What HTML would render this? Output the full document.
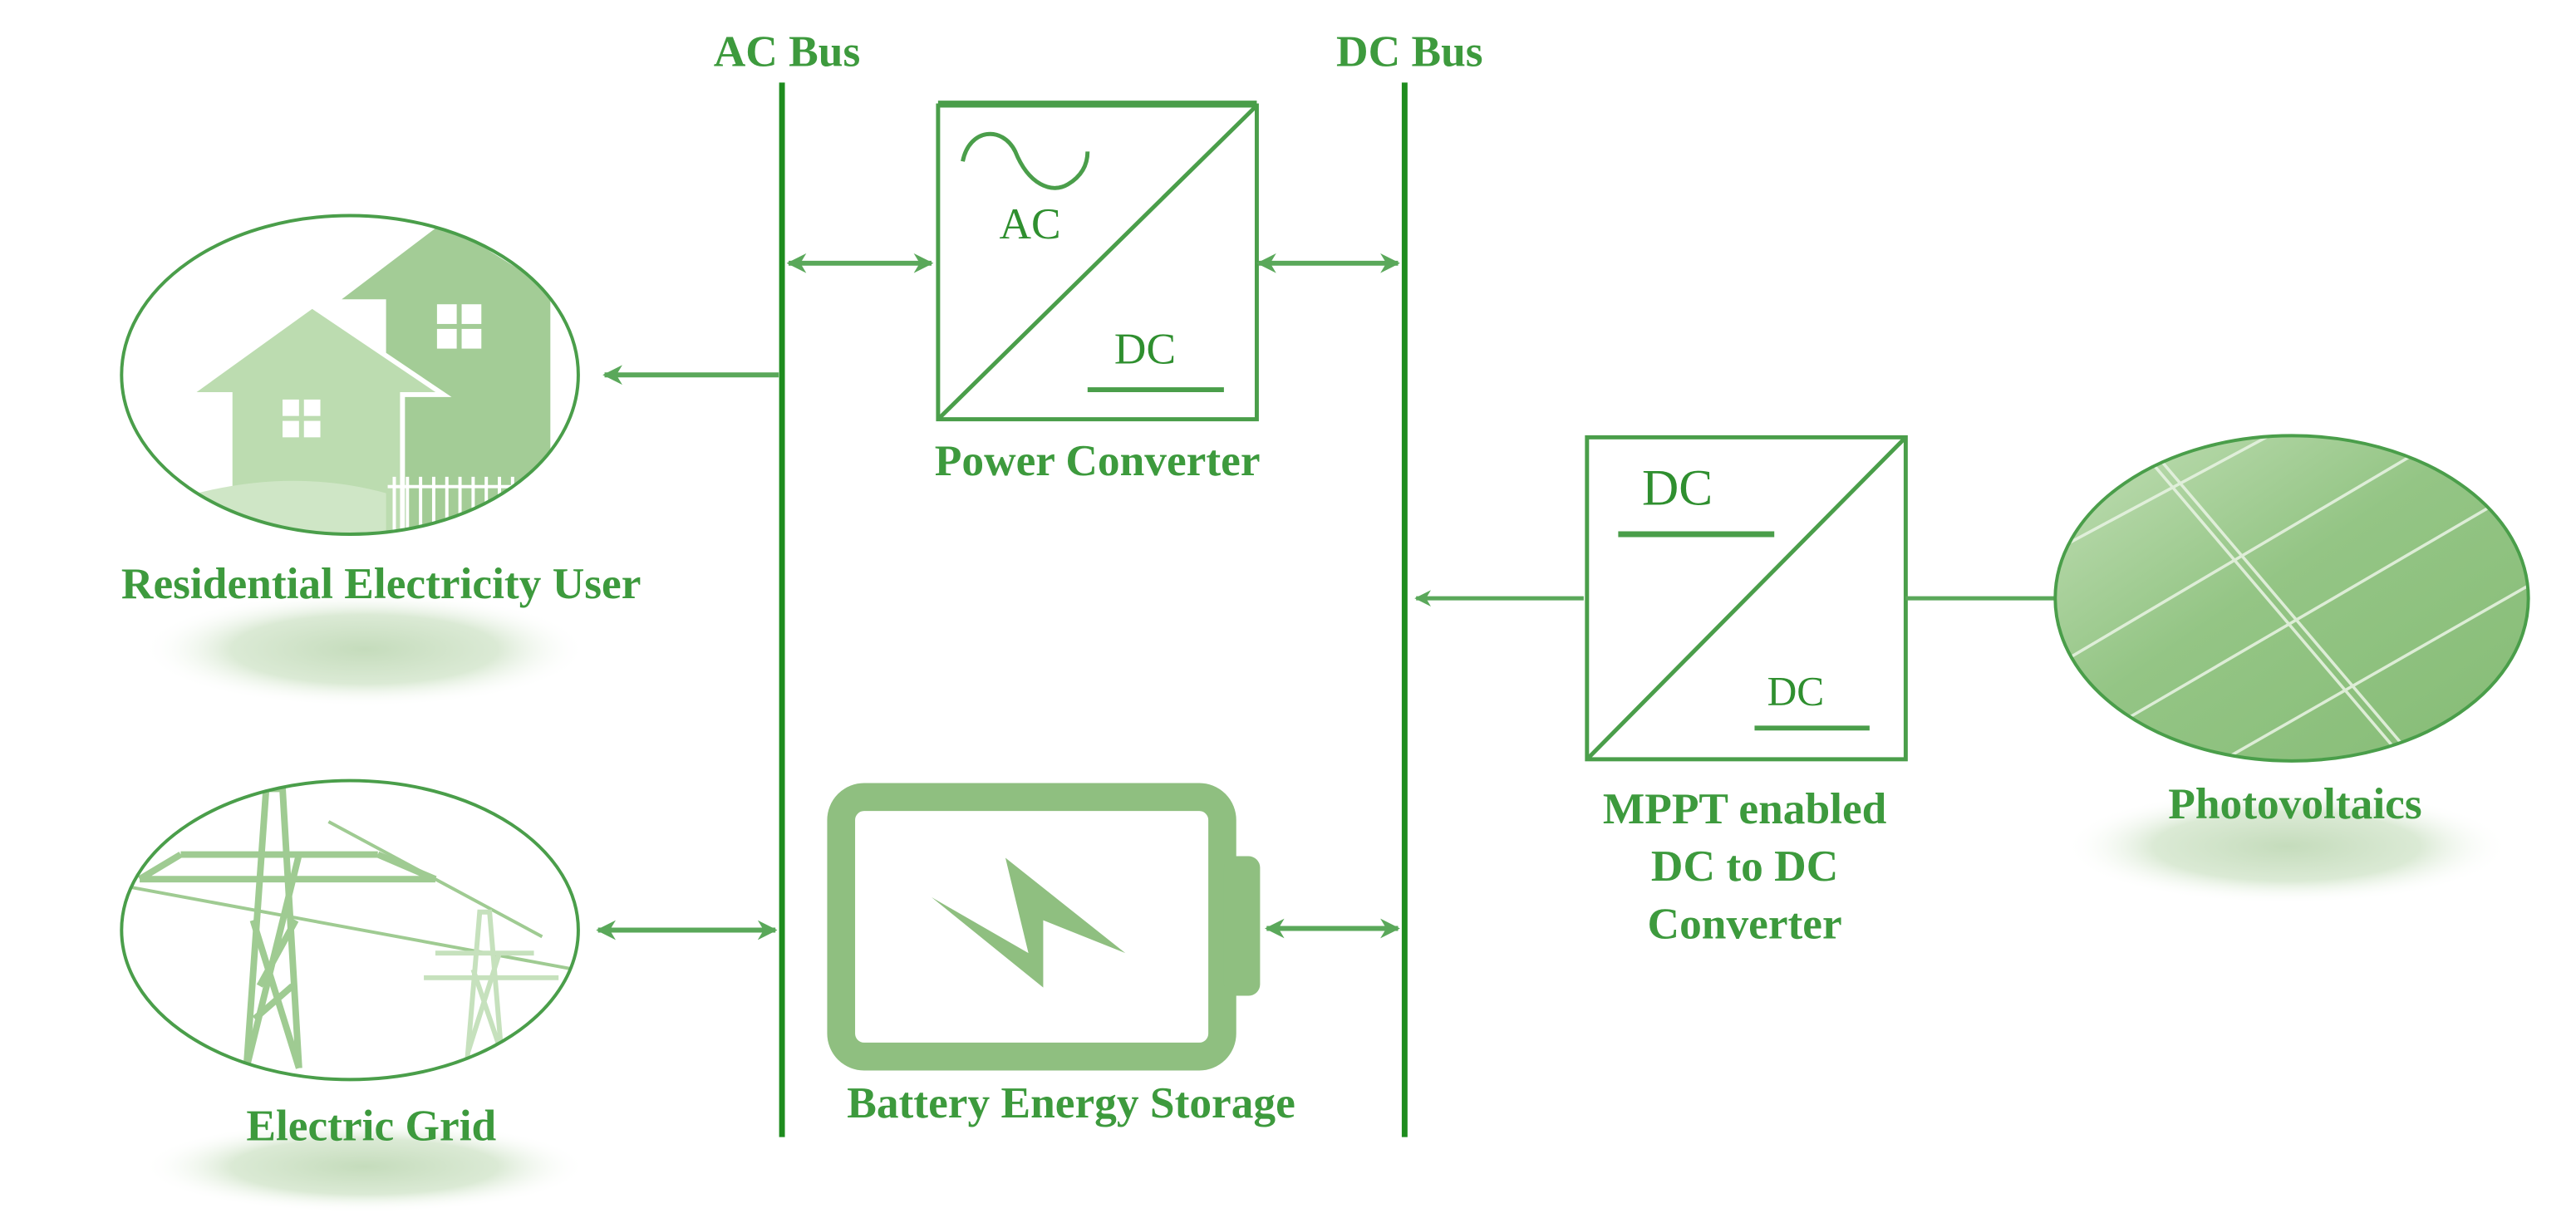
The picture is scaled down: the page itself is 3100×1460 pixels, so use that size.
<!DOCTYPE html>
<html><head><meta charset="utf-8"><style>
html,body{margin:0;padding:0;background:#fff;}
svg{display:block;}
text{font-family:"Liberation Serif",serif;font-weight:bold;fill:#3d9a3d;}
</style></head><body>
<svg width="3100" height="1460" viewBox="0 0 1568 738" xmlns="http://www.w3.org/2000/svg">
<defs>
<marker id="ah" viewBox="0 0 10 10" refX="9" refY="5" markerWidth="4" markerHeight="4" orient="auto-start-reverse">
<path d="M0,0 L10,5 L0,10 L3,5 z" fill="#5aa85a"/></marker>
<clipPath id="c1"><ellipse cx="213" cy="228" rx="139" ry="97"/></clipPath>
<clipPath id="c2"><ellipse cx="213" cy="566" rx="139" ry="91"/></clipPath>
<clipPath id="c3"><ellipse cx="1395" cy="364" rx="144" ry="99"/></clipPath>
<radialGradient id="sh" cx="0.5" cy="0.5" r="0.5"><stop offset="0" stop-color="#c5dcbc"/><stop offset="0.6" stop-color="#dbeAd5"/><stop offset="1" stop-color="#fff" stop-opacity="0"/></radialGradient>
<linearGradient id="pv" x1="0" y1="0" x2="1" y2="1"><stop offset="0" stop-color="#c2dfb6"/><stop offset="0.45" stop-color="#94c585"/><stop offset="1" stop-color="#86bc76"/></linearGradient>
</defs>

<!-- shadows -->
<ellipse cx="222" cy="395" rx="135" ry="35" fill="url(#sh)"/>
<ellipse cx="222" cy="710" rx="135" ry="28" fill="url(#sh)"/>
<ellipse cx="1392" cy="515" rx="135" ry="35" fill="url(#sh)"/>

<!-- buses -->
<line x1="476" y1="50" x2="476" y2="692" stroke="#1e8c1e" stroke-width="3.5"/>
<line x1="855" y1="50" x2="855" y2="692" stroke="#1e8c1e" stroke-width="3.5"/>
<text x="479" y="40" font-size="27" text-anchor="middle">AC Bus</text>
<text x="858" y="40" font-size="27" text-anchor="middle">DC Bus</text>

<!-- power converter -->
<rect x="571" y="64" width="194" height="191" fill="none" stroke="#4a9e4a" stroke-width="2.5"/>
<line x1="571" y1="63" x2="765" y2="63" stroke="#4a9e4a" stroke-width="4"/>
<line x1="571" y1="255" x2="765" y2="64" stroke="#4a9e4a" stroke-width="2.5"/>
<path d="M586,98 C590,78 610,76 618,92 C626,112 640,118 650,112 C660,106 662,98 662,92" fill="none" stroke="#4a9e4a" stroke-width="2.5"/>
<text x="627" y="145" font-size="27" text-anchor="middle" style="font-weight:normal;fill:#2f8f2f">AC</text>
<text x="697" y="221" font-size="27" text-anchor="middle" style="font-weight:normal;fill:#2f8f2f">DC</text>
<line x1="662" y1="237" x2="745" y2="237" stroke="#4a9e4a" stroke-width="3"/>
<text x="668" y="289" font-size="27" text-anchor="middle">Power Converter</text>
<line x1="480" y1="160" x2="567" y2="160" stroke="#5aa85a" stroke-width="3" marker-start="url(#ah)" marker-end="url(#ah)"/>
<line x1="766" y1="160" x2="851" y2="160" stroke="#5aa85a" stroke-width="3" marker-start="url(#ah)" marker-end="url(#ah)"/>

<!-- residential -->
<g clip-path="url(#c1)">
<polygon points="270,135 208,182 235,182 235,330 335,330 335,182 345,182" fill="#a3cc96"/>
<polygon points="190,186 115,240 140,240 140,330 245,330 245,240 270,240" fill="#bcdcb0" stroke="#fff" stroke-width="3"/>
<g fill="#fff"><rect x="266" y="185" width="12" height="12"/><rect x="281" y="185" width="12" height="12"/><rect x="266" y="200" width="12" height="12"/><rect x="281" y="200" width="12" height="12"/>
<rect x="172" y="243" width="10" height="10"/><rect x="185" y="243" width="10" height="10"/><rect x="172" y="256" width="10" height="10"/><rect x="185" y="256" width="10" height="10"/></g>
<path d="M120,300 Q180,285 235,300 L235,330 L120,330z" fill="#cfe6c6"/>
<g stroke="#fff" stroke-width="2"><line x1="240" y1="290" x2="240" y2="325"/><line x1="248" y1="290" x2="248" y2="325"/><line x1="256" y1="290" x2="256" y2="325"/><line x1="264" y1="290" x2="264" y2="325"/><line x1="272" y1="290" x2="272" y2="325"/><line x1="280" y1="290" x2="280" y2="325"/><line x1="288" y1="290" x2="288" y2="325"/><line x1="296" y1="290" x2="296" y2="325"/><line x1="304" y1="290" x2="304" y2="325"/><line x1="312" y1="290" x2="312" y2="325"/><line x1="320" y1="290" x2="320" y2="325"/><line x1="236" y1="296" x2="330" y2="296"/></g>
</g>
<ellipse cx="213" cy="228" rx="139" ry="97" fill="none" stroke="#4a9e4a" stroke-width="2"/>
<line x1="474" y1="228" x2="368" y2="228" stroke="#5aa85a" stroke-width="3" marker-end="url(#ah)"/>
<text x="232" y="364" font-size="27" text-anchor="middle">Residential Electricity User</text>

<!-- grid -->
<g clip-path="url(#c2)" fill="none" stroke="#9fcb92" stroke-width="4">
<path d="M150,650 L162,480 L172,480 L182,650"/>
<path d="M150,650 L182,520 M182,650 L154,560 M158,600 L180,560 M155,620 L178,600"/>
<path d="M85,535 L265,535 M110,520 L230,520 M110,520 L85,535 M230,520 L265,535"/>
<path d="M80,540 L350,590" stroke-width="2"/><path d="M200,500 L330,570" stroke-width="2"/>
<g stroke="#c6e1bd" stroke-width="3"><path d="M284,650 L292,555 L298,555 L306,650"/><path d="M285,640 L304,580 M305,640 L288,590"/><path d="M258,595 L340,595 M265,580 L325,580"/></g>
</g>
<ellipse cx="213" cy="566" rx="139" ry="91" fill="none" stroke="#4a9e4a" stroke-width="2"/>
<line x1="364" y1="566" x2="472" y2="566" stroke="#5aa85a" stroke-width="3" marker-start="url(#ah)" marker-end="url(#ah)"/>
<text x="226" y="694" font-size="27" text-anchor="middle">Electric Grid</text>

<!-- battery -->
<rect x="512" y="485" width="232" height="158" rx="14" fill="none" stroke="#8fbf80" stroke-width="17"/>
<rect x="745" y="521" width="22" height="85" rx="7" fill="#8fbf80"/>
<polygon points="612,522 626,580 567,546 635,601 635,560 685,580" fill="#8fbf80"/>
<line x1="771" y1="565" x2="851" y2="565" stroke="#5aa85a" stroke-width="3" marker-start="url(#ah)" marker-end="url(#ah)"/>
<text x="652" y="680" font-size="27" text-anchor="middle">Battery Energy Storage</text>

<!-- MPPT -->
<rect x="966" y="266" width="194" height="196" fill="none" stroke="#4a9e4a" stroke-width="2.5"/>
<line x1="966" y1="462" x2="1160" y2="266" stroke="#4a9e4a" stroke-width="2.5"/>
<text x="1021" y="307" font-size="31" text-anchor="middle" style="font-weight:normal;fill:#2f8f2f">DC</text>
<line x1="985" y1="325" x2="1080" y2="325" stroke="#4a9e4a" stroke-width="3.5"/>
<text x="1093" y="429" font-size="25" text-anchor="middle" style="font-weight:normal;fill:#2f8f2f">DC</text>
<line x1="1068" y1="443" x2="1138" y2="443" stroke="#4a9e4a" stroke-width="3"/>
<line x1="964" y1="364" x2="862" y2="364" stroke="#5aa85a" stroke-width="2.5" marker-end="url(#ah)"/>
<line x1="1160" y1="364" x2="1251" y2="364" stroke="#5aa85a" stroke-width="2.5"/>
<text x="1062" y="501" font-size="27" text-anchor="middle">MPPT enabled</text>
<text x="1062" y="536" font-size="27" text-anchor="middle">DC to DC</text>
<text x="1062" y="571" font-size="27" text-anchor="middle">Converter</text>

<!-- PV -->
<ellipse cx="1395" cy="364" rx="144" ry="99" fill="url(#pv)"/>
<g clip-path="url(#c3)" stroke="#e6f2e0" stroke-width="1.8" fill="none" opacity="0.9">
<line x1="1260" y1="330" x2="1400" y2="255"/><line x1="1260" y1="400" x2="1480" y2="270"/>
<line x1="1290" y1="440" x2="1530" y2="300"/><line x1="1340" y1="470" x2="1550" y2="350"/>
<line x1="1300" y1="270" x2="1470" y2="470"/><line x1="1305" y1="268" x2="1475" y2="468"/>
</g>
<ellipse cx="1395" cy="364" rx="144" ry="99" fill="none" stroke="#4a9e4a" stroke-width="2"/>
<text x="1397" y="498" font-size="27" text-anchor="middle">Photovoltaics</text>
</svg>
</body></html>
